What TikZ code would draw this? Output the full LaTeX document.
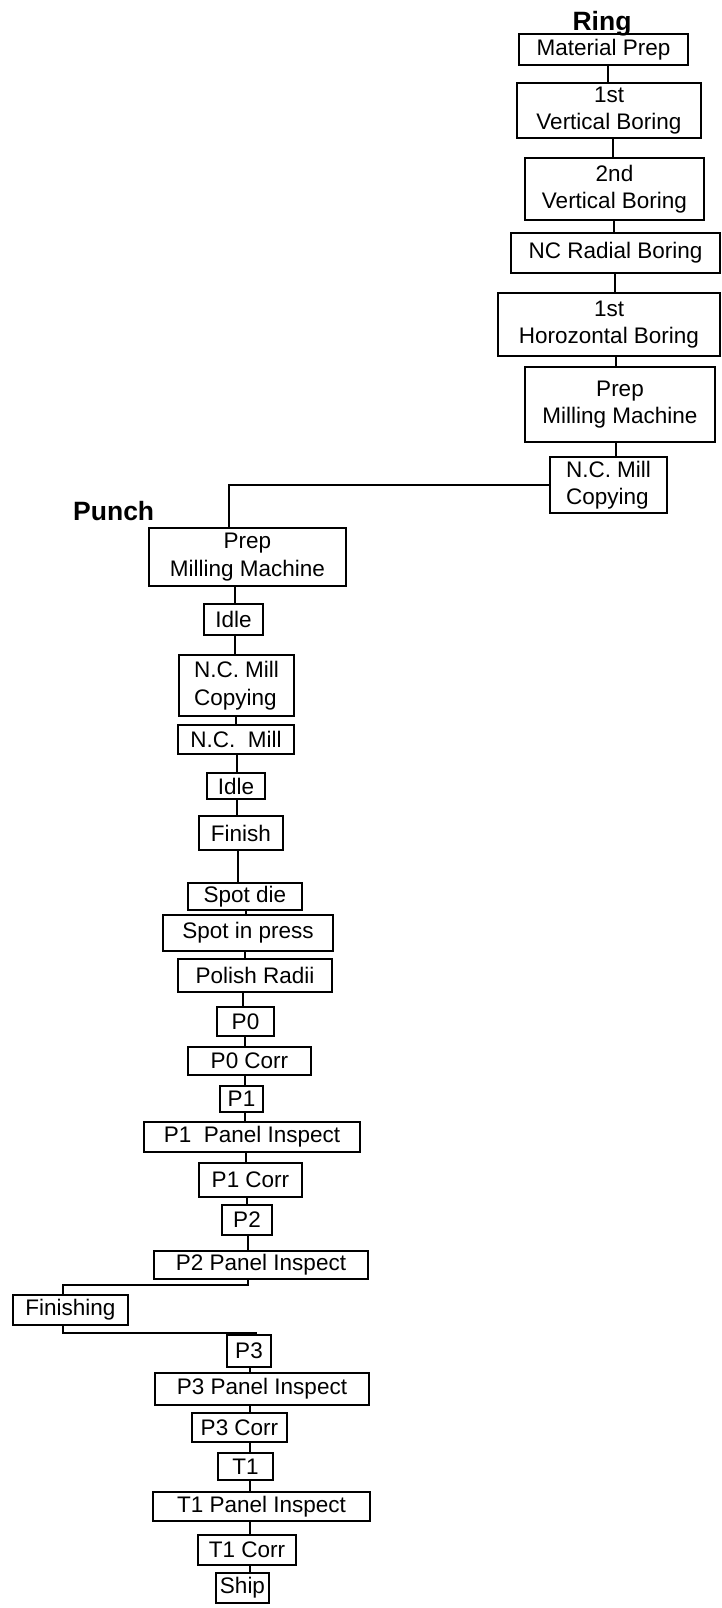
\documentclass[tikz,border=0pt]{standalone}
\usepackage{fontspec}
\setmainfont{Liberation Sans}
\tikzset{
  box/.style={draw, line width=2.2pt, inner sep=0pt, align=center, font=\fontsize{22.5}{27.5}\selectfont},
  conn/.style={line width=2.2pt},
  title/.style={font=\bfseries\fontsize{26.5}{30}\selectfont, inner sep=0pt}
}
\newcommand\mkbox[7][]{\node[box,#1,minimum width={#4-#3},minimum height={#6-#5}] (#2) at ({(#3+#4)/2},{(#5+#6)/2}) {#7};}
\newcommand\conn[3]{\path (#3,0) coordinate (cx); \draw[conn] (#1.south -| cx) -- (#2.north -| cx);}
\begin{document}
\begin{tikzpicture}[x=1pt,y=-1pt]
\useasboundingbox (0,0) rectangle (721,1608);
% titles
\node[title, anchor=base] (ring) at (602,31) {Ring};
\node[title, anchor=base west] (punch) at (73,520) {Punch};
% Ring column
\mkbox{r1}{519}{688}{34}{65}{Material Prep}
\mkbox{r2}{517}{701}{83}{138}{1st\\Vertical Boring}
\mkbox{r3}{525}{704}{158}{220}{2nd\\Vertical Boring}
\mkbox{r4}{511}{720}{233}{273}{NC Radial Boring}
\mkbox{r5}{498}{720}{293}{356}{1st\\Horozontal Boring}
\mkbox{r6}{525}{715}{367}{442}{Prep\\Milling Machine}
\mkbox[align=left]{r7}{550}{667}{457}{513}{N.C. Mill\\Copying}
% Punch column
\mkbox{p1}{149}{346}{528}{586}{Prep\\Milling Machine}
\mkbox{p2}{204}{263}{604}{635}{Idle}
\mkbox[align=left]{p3}{179}{294}{655}{716}{N.C. Mill\\Copying}
\mkbox{p4}{178}{294}{725}{754}{N.C.\ \ Mill}
\mkbox{p5}{207}{265}{773}{799}{Idle}
\mkbox{p6}{199}{283}{816}{850}{Finish}
\mkbox{p7}{188}{302}{883}{910}{Spot die}
\mkbox{p8}{163}{333}{915}{951}{Spot in press}
\mkbox{p9}{178}{332}{959}{992}{Polish Radii}
\mkbox{p10}{217}{274}{1007}{1036}{P0}
\mkbox{p11}{188}{311}{1047}{1075}{P0 Corr}
\mkbox{p12}{220}{263}{1086}{1112}{P1}
\mkbox{p13}{144}{360}{1122}{1152}{P1\ \ Panel Inspect}
\mkbox{p14}{199}{302}{1163}{1197}{P1 Corr}
\mkbox{p15}{222}{272}{1205}{1235}{P2}
\mkbox{p16}{154}{368}{1251}{1279}{P2 Panel Inspect}
\mkbox{f}{13}{128}{1295}{1325}{Finishing}
\mkbox{p17}{227}{271}{1335}{1367}{P3}
\mkbox{p18}{155}{369}{1373}{1405}{P3 Panel Inspect}
\mkbox{p19}{192}{287}{1413}{1442}{P3 Corr}
\mkbox{p20}{218}{273}{1453}{1480}{T1}
\mkbox{p21}{153}{370}{1492}{1521}{T1 Panel Inspect}
\mkbox{p22}{198}{296}{1535}{1565}{T1 Corr}
\mkbox{p23}{216}{269}{1573}{1603}{Ship}
% Ring connectors
\conn{r1}{r2}{608}
\conn{r2}{r3}{613}
\conn{r3}{r4}{614}
\conn{r4}{r5}{615}
\conn{r5}{r6}{616}
\conn{r6}{r7}{616}
% Ring to Punch
\draw[conn] (r7.west) -| ([xshift=-18.5pt]p1.north);
% Punch connectors
\conn{p1}{p2}{235}
\conn{p2}{p3}{235}
\conn{p3}{p4}{236}
\conn{p4}{p5}{237}
\conn{p5}{p6}{237}
\conn{p6}{p7}{238}
\conn{p7}{p8}{246}
\conn{p8}{p9}{245}
\conn{p9}{p10}{243}
\conn{p10}{p11}{245}
\conn{p11}{p12}{245}
\conn{p12}{p13}{245}
\conn{p13}{p14}{246}
\conn{p14}{p15}{247}
\conn{p15}{p16}{248}
\conn{p17}{p18}{250}
\conn{p18}{p19}{250}
\conn{p19}{p20}{250}
\conn{p20}{p21}{250}
\conn{p21}{p22}{250}
\conn{p22}{p23}{250}
% Finishing branch
\coordinate (j1) at (248,1285);
\coordinate (fx) at (63,0);
\coordinate (j2) at (257,1333);
\draw[conn] (p16.south -| j1) -- (j1) -- (j1 -| fx) -- (f.north -| fx);
\draw[conn] (f.south -| fx) |- (j2);
\end{tikzpicture}
\end{document}
